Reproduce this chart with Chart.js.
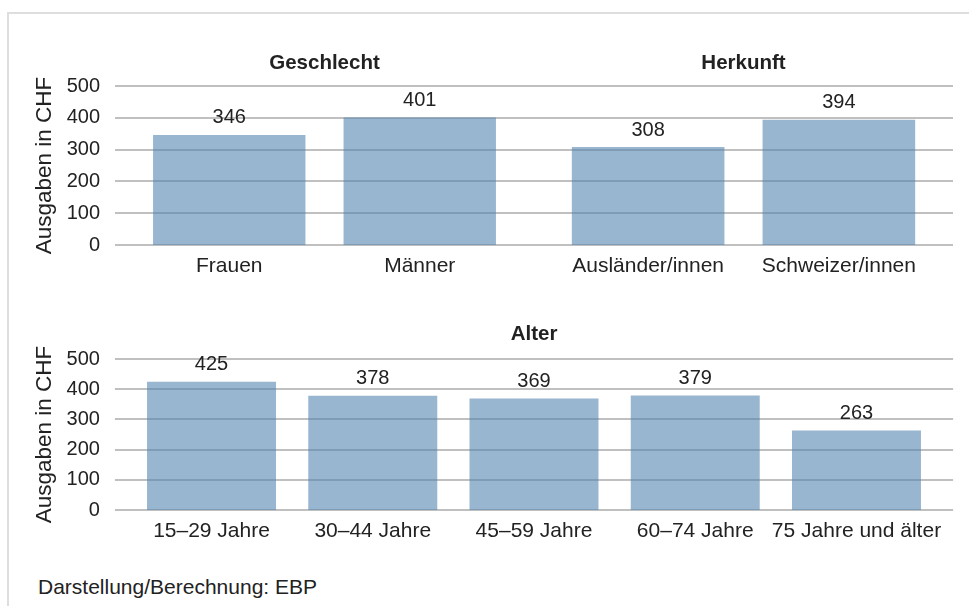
<!DOCTYPE html>
<html>
<head>
<meta charset="utf-8">
<script src="https://cdn.jsdelivr.net/npm/chart.js@4.4.0/dist/chart.umd.min.js"></script>
<style>
	body { margin: 0; background: #fff; width: 969px; height: 606px; overflow: hidden; position: relative; font-family: "Liberation Sans", Arial, sans-serif; }
	.frame { position: absolute; left: 7px; top: 12px; width: 1000px; height: 700px; border: 2px solid #dedede; }
	.box { position: absolute; }
	#footer { position: absolute; left: 38px; top: 575px; font-size: 21px; line-height: 24px; color: #222; }
</style>
</head>
<body>
<div class="frame"></div>
<div class="box" style="left:0;top:0;width:534px;height:300px"><canvas id="geschlechtChart"></canvas></div>
<div class="box" style="left:534px;top:0;width:435px;height:300px"><canvas id="herkunftChart"></canvas></div>
<div class="box" style="left:0;top:300px;width:969px;height:253px"><canvas id="alterChart"></canvas></div>
<div id="footer">Darstellung/Berechnung: EBP</div>
<script>
// data
const geschlechtLabels = ['Frauen', 'Männer'];
const geschlechtValues = [346, 401];

const herkunftLabels = ['Ausländer/innen', 'Schweizer/innen'];
const herkunftValues = [308, 394];

const alterLabels = ['15–29 Jahre', '30–44 Jahre', '45–59 Jahre', '60–74 Jahre', '75 Jahre und älter'];
const alterValues = [425, 378, 369, 379, 263];

const yTicks = [0, 100, 200, 300, 400, 500];
const yTitle = 'Ausgaben in CHF';

Chart.defaults.font.family = '"Liberation Sans", Arial, sans-serif';
Chart.defaults.color = '#222';

// horizontal grid lines, a bit wider than the bar area (like the Excel original)
const wideGrid = {
	id: 'wideGrid',
	beforeDatasetsDraw(chart, args, opts) {
		const { ctx, chartArea: { left, right }, scales: { y } } = chart;
		ctx.save();
		ctx.strokeStyle = '#c0c0c0';
		ctx.lineWidth = 2;
		yTicks.forEach(v => {
			const py = Math.round(y.getPixelForValue(v));
			ctx.beginPath();
			ctx.moveTo(left - opts.ext, py);
			ctx.lineTo(right + opts.ext, py);
			ctx.stroke();
		});
		ctx.restore();
	}
};

// numbers above the bars
const valueLabels = {
	id: 'valueLabels',
	afterDatasetsDraw(chart) {
		const { ctx, data } = chart;
		ctx.save();
		ctx.font = '20px "Liberation Sans", Arial, sans-serif';
		ctx.fillStyle = '#222';
		ctx.textAlign = 'center';
		ctx.textBaseline = 'middle';
		data.datasets.forEach((dataset, i) => {
			chart.getDatasetMeta(i).data.forEach((bar, index) => {
				ctx.fillText(dataset.data[index], bar.x, bar.y - 17);
			});
		});
		ctx.restore();
	}
};

const createPanel = (id, labels, values, title, p) => {
	const ctx = document.getElementById(id).getContext('2d');
	return new Chart(ctx, {
		type: 'bar',
		data: {
			labels: labels,
			datasets: [{
				data: values,
				backgroundColor: 'rgba(79, 129, 175, 0.58)',
				borderWidth: 0,
				categoryPercentage: 1,
				barPercentage: 0.8
			}]
		},
		options: {
			responsive: true,
			maintainAspectRatio: false,
			animation: false,
			layout: { padding: { top: p.padTop, left: p.padLeft, right: p.padRight, bottom: 0 } },
			plugins: {
				legend: { display: false },
				tooltip: { enabled: false },
				title: {
					display: true,
					text: title,
					fullSize: false,
					font: { size: 20.5, weight: 'bold' },
					color: '#222',
					padding: { top: 0, bottom: p.titleGap }
				},
				wideGrid: { ext: p.ext }
			},
			scales: {
				x: {
					grid: { display: false, drawTicks: false, tickLength: 0 },
					border: { display: false },
					ticks: { font: { size: 21 }, padding: 9, maxRotation: 0, minRotation: 0, autoSkip: false },
					afterFit(scale) { scale.height = p.xHeight; }
				},
				y: {
					display: p.showY,
					min: 0,
					max: 500,
					grid: { display: false, drawTicks: false, tickLength: 0 },
					border: { display: false },
					ticks: { stepSize: 100, font: { size: 20 }, padding: p.tickPad },
					title: {
						display: true,
						text: yTitle,
						font: { size: 22.5 },
						color: '#222',
						padding: { top: 31.5, bottom: 0 }
					},
					afterFit(scale) { if (p.showY) scale.width = p.yWidth; }
				}
			}
		},
		plugins: [wideGrid, valueLabels]
	});
};

createPanel('geschlechtChart', geschlechtLabels, geschlechtValues, 'Geschlecht', {
	showY: true, yWidth: 134, tickPad: 34, padTop: 50.7, titleGap: 10.7,
	padLeft: 0, padRight: 19, xHeight: 55, ext: 19
});

createPanel('herkunftChart', herkunftLabels, herkunftValues, 'Herkunft', {
	showY: false, yWidth: 0, tickPad: 0, padTop: 50.7, titleGap: 10.7,
	padLeft: 18.75, padRight: 34.75, xHeight: 55, ext: 18.75
});

createPanel('alterChart', alterLabels, alterValues, 'Alter', {
	showY: true, yWidth: 130.9, tickPad: 31, padTop: 21.7, titleGap: 12.7,
	padLeft: 0, padRight: 31.9, xHeight: 43, ext: 16
});
</script>
</body>
</html>
